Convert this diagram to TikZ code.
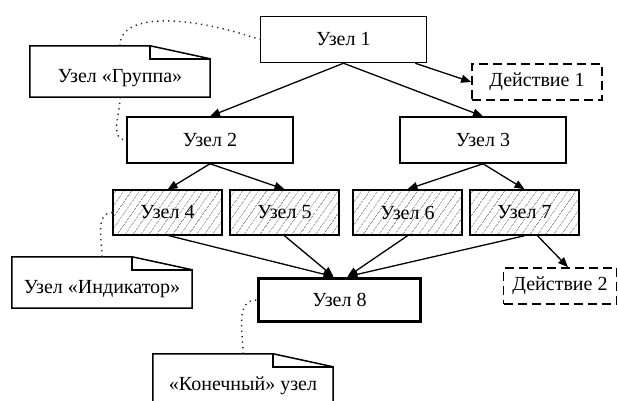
\documentclass[tikz,border=0pt]{standalone}
\usepackage{fontspec}
\setmainfont{Liberation Serif}
\usetikzlibrary{arrows.meta,positioning,patterns.meta}

\tikzset{
  nodebox/.style={draw, line width=1.5pt, minimum width=166pt, minimum height=46pt, inner sep=0pt},
  leafbox/.style={draw, line width=1.5pt, minimum width=109pt, minimum height=45pt, inner sep=0pt,
    pattern={Lines[angle=55,distance=6.5pt,line width=0.6pt]}, pattern color=black!50},
  endbox/.style={draw, line width=3.8pt, minimum width=162pt, minimum height=43pt, inner sep=0pt},
  actbox/.style={draw, line width=1.6pt, dash pattern=on 9pt off 5pt, minimum height=36pt, inner sep=0pt},
  notebox/.style={minimum width=180pt, minimum height=51pt, inner sep=0pt, text height=26pt, text depth=4pt},
  link/.style={line width=1.3pt, -{Triangle[length=10pt,width=8pt]}},
  hint/.style={line width=1.4pt, dash pattern=on 1.3pt off 4.2pt, black!85}
}

% outline of a note with its folded corner
\newcommand{\noteframe}[1]{%
  \draw[line width=1.5pt] (#1.south west) -- (#1.north west) -- ([xshift=-60pt]#1.north east)
    -- ([yshift=-13pt]#1.north east) -- (#1.south east) -- cycle;
  \draw[line width=1.5pt] ([xshift=-60pt]#1.north east) |- ([yshift=-13pt]#1.north east);}

\begin{document}
\begin{tikzpicture}[x=1pt, y=1pt, font=\fontsize{20}{24}\selectfont]
\useasboundingbox (0,0) rectangle (618,401);

% tree
\node[nodebox] (n1) at (343.5,361.5) {Узел 1};
\node[nodebox] (n2) at (210,261) {Узел 2};
\node[nodebox] (n3) at (483,261) {Узел 3};
\node[actbox, minimum width=130pt] (act1) at (537,319) {Действие 1};
\node[leafbox] (n4) at (167.5,188.5) {Узел 4};
\node[leafbox] (n5) at (284.5,188.5) {Узел 5};
\node[leafbox] (n6) at (407.5,188.5) {Узел 6};
\node[leafbox] (n7) at (524.5,188.5) {Узел 7};
\node[endbox] (n8) at (339.5,101) {Узел 8};
\node[actbox, minimum width=113pt] (act2) at (560,115) {Действие 2};

% notes
\node[notebox] (grp) at (120,329.5) {Узел «Группа»};
\node[notebox] (ind) at (102,118.5) {Узел «Индикатор»};
\node[notebox] (fin) at (243,21.5) {«Конечный» узел};
\noteframe{grp}
\noteframe{ind}
\noteframe{fin}

% arrows
\draw[link] (n1.south) -- (n2.north);
\draw[link] (n1.south) -- (n3.north);
\draw[link] ([xshift=-12pt]n1.south east) -- (act1.west);
\draw[link] (n2.south) -- (n4.north);
\draw[link] (n2.south) -- (n5.north);
\draw[link] (n3.south) -- (n6.north);
\draw[link] (n3.south) -- (n7.north);
\draw[link] (n4.south) -- ([xshift=-6pt]n8.north);
\draw[link] (n5.south) -- ([xshift=-6pt]n8.north);
\draw[link] (n6.south) -- ([xshift=8pt]n8.north);
\draw[link] (n7.south) -- ([xshift=8pt]n8.north);
\draw[link] ([xshift=13pt]n7.south) -- ([xshift=8pt]act2.north);

% dotted hints
\draw[hint] (grp.north) .. controls +(0,34) and +(-70,24) .. (n1.west);
\draw[hint] (grp.south) to[out=-90,in=180] (n2.west);
\draw[hint] (ind.north) to[out=90,in=180] (n4.west);
\draw[hint] (fin.north) to[out=90,in=180] (n8.west);
\end{tikzpicture}
\end{document}
